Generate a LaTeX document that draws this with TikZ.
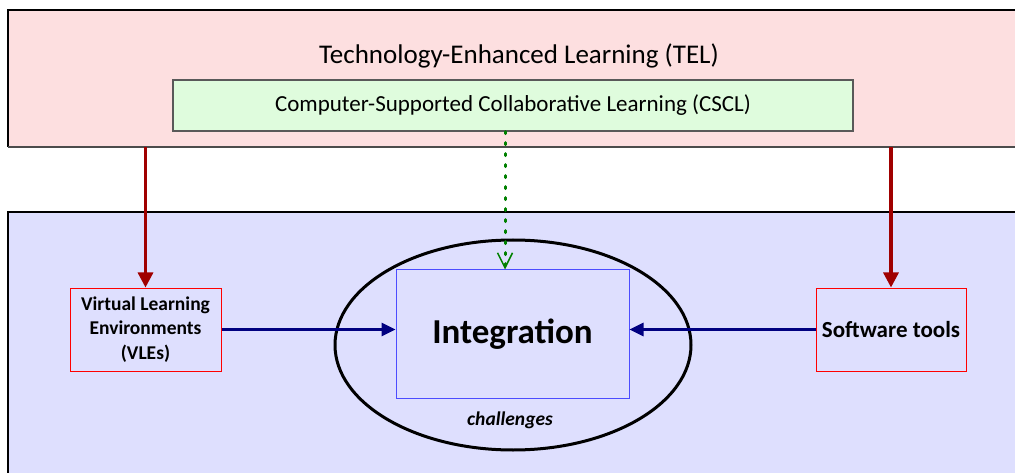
\documentclass[tikz,border=0pt]{standalone}
\usepackage{fontspec}
\setmainfont{Carlito}
\usetikzlibrary{arrows.meta,shapes.geometric}

\definecolor{telpink}{HTML}{FDDFE0}
\definecolor{csclgreen}{HTML}{DFFCDD}
\definecolor{vlepurple}{HTML}{DEDFFE}
\definecolor{arrowred}{HTML}{A00000}
\definecolor{arrownavy}{HTML}{000080}
\definecolor{dotgreen}{HTML}{008000}

\begin{document}
\begin{tikzpicture}[x=1pt,y=-1pt,
    toolbox/.style={draw=red, fill=vlepurple, line width=1pt, align=center,
      font=\fontsize{19.5}{24.5}\selectfont\bfseries, inner sep=0pt},
    feeds/.style={draw=arrowred, line width=3.2pt, -{Triangle[length=15pt,width=15pt]}},
    joins/.style={draw=arrownavy, line width=3pt, -{Triangle[length=14pt,width=13pt]}}]
    \useasboundingbox (0,0) rectangle (1015,473);

    % Background areas
    \fill[telpink] (8,10) rectangle (1016,147);
    \draw[line width=1.2pt] (1016,10) -- (8,10) -- (8,147);
    \draw[line width=1.2pt, black!70] (8,147) -- (1016,147);
    \fill[vlepurple] (8,212) rectangle (1016,475);
    \draw[line width=1.2pt] (8,475) -- (8,212) -- (1016,212);

    % TEL and CSCL
    \node[font=\fontsize{27}{31}\selectfont] (tel) at (519,56) {Technology-Enhanced Learning (TEL)};
    \node[draw=black!65, fill=csclgreen, line width=1.4pt, minimum width=680pt, minimum height=51pt,
      font=\fontsize{23}{27}\selectfont] (cscl) at (513,105.5) {Computer-Supported Collaborative Learning (CSCL)};
    \coordinate (telbase) at (0,147);

    % Integration in the middle
    \node[draw=black, line width=3pt, ellipse, minimum width=356pt, minimum height=210pt] (chall) at (513,345) {};
    \node[draw=blue!70, line width=1pt, minimum width=233pt, minimum height=128pt,
      font=\fontsize{35}{40}\selectfont\bfseries] (integ) at (512.5,334) {\raisebox{-4pt}{Integration}};
    \node[font=\fontsize{19.5}{24}\selectfont\bfseries\itshape] (challtext) at (510,420) {challenges};

    % Both sides
    \node[toolbox, minimum width=151pt, minimum height=83pt] (vle) at (145.5,329.5)
      {\raisebox{-4pt}{\parbox{151pt}{\centering Virtual Learning\\Environments\\(VLEs)}}};
    \node[toolbox, minimum width=150pt, minimum height=83pt, font=\fontsize{23}{27}\selectfont\bfseries]
      (tools) at (891,329.5) {Software tools};

    % Arrows
    \draw[feeds] (telbase -| vle.north) -- (vle.north);
    \draw[feeds] (telbase -| tools.north) -- (tools.north);
    \coordinate (mid) at (505,0);
    \draw[dotgreen, line width=3pt, line cap=round, dash pattern=on 2pt off 9pt,
      -{Straight Barb[length=15pt,width=15pt,line width=1.5pt]}]
      (cscl.south -| mid) -- (integ.north -| mid);
    \draw[joins] (vle.east) -- (vle.east -| integ.west);
    \draw[joins] (tools.west) -- (tools.west -| integ.east);
\end{tikzpicture}
\end{document}
